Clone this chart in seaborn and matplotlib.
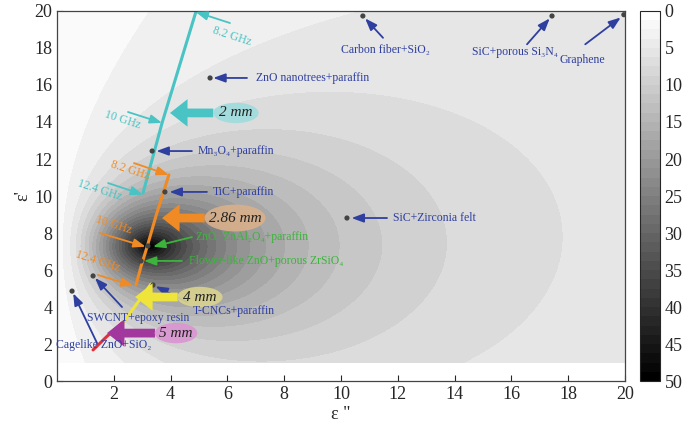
import numpy as np
import pandas as pd
import matplotlib
matplotlib.use("Agg")
import matplotlib.pyplot as plt
from matplotlib.patches import Ellipse
from matplotlib.cm import ScalarMappable
from matplotlib.colors import Normalize
import seaborn as sns

# background map: metal-backed single layer (mu = 1) at one frequency / thickness
freq_ghz = 10.0
thick_mm = 2.86
eps_imag_axis = np.linspace(0.01, 20, 500)
eps_real_axis = np.linspace(1, 20, 500)
shade_levels = np.linspace(0, 50, 26)

# matching loci (eps'', eps')
locus_2mm_x = [3.03, 3.70, 4.90]
locus_2mm_y = [10.16, 13.95, 20.0]
locus_286mm_x = [3.94, 3.50, 3.17, 2.96, 2.78]
locus_286mm_y = [11.14, 9.00, 7.24, 6.20, 5.19]
locus_4mm_x = [3.31, 2.75, 2.22]
locus_4mm_y = [5.24, 4.05, 2.92]
locus_5mm_x = [2.29, 1.75, 1.27]
locus_5mm_y = [3.14, 2.40, 1.68]

# reported materials
materials = ["Graphene", "SiC+porous Si₃N₄", "Carbon fiber+SiO₂", "ZnO nanotrees+paraffin",
             "Mn₃O₄+paraffin", "TiC+paraffin", "SiC+Zirconia felt", "ZnO+ZnAl₂O₄+paraffin",
             "Flower-like ZnO+porous ZrSiO₄", "T-CNCs+paraffin", "SWCNT+epoxy resin",
             "Cagelike ZnO+SiO₂"]
mat_eps_imag = [19.96, 17.43, 10.77, 5.39, 3.35, 3.80, 10.21, 3.20, 2.96, 3.38, 1.27, 0.53]
mat_eps_real = [19.80, 19.73, 19.73, 16.38, 12.43, 10.22, 8.81, 7.30, 6.49, 5.19, 5.68, 4.86]

x_ticks = list(range(2, 21, 2))
y_ticks = list(range(0, 21, 2))
cbar_ticks = list(range(0, 51, 5))

sns.set_theme(style="ticks")
serif = ["Liberation Serif", "DejaVu Serif"]
plt.rcParams["font.family"] = serif

fig = plt.figure(figsize=(6.85, 4.26), dpi=100)
ax = fig.add_axes([0.0832, 0.1056, 0.8292, 0.8686])
cax = fig.add_axes([0.935, 0.1056, 0.028, 0.8686])

# field
EI, ER = np.meshgrid(eps_imag_axis, eps_real_axis)
eps = ER - 1j * EI
k0d = 2 * np.pi * freq_ghz * 1e9 * thick_mm * 1e-3 / 3e8
z_in = np.sqrt(1 / eps) * np.tanh(1j * k0d * np.sqrt(eps))
absorb = 1 - np.abs((z_in - 1) / (z_in + 1))
depth = np.clip(45 * absorb ** 2.5 + 5 * absorb ** 0.5, 0, 49.9)
ax.contourf(EI, ER, depth, levels=shade_levels, cmap="gray_r", vmin=0, vmax=50)

sm = ScalarMappable(norm=Normalize(0, 50), cmap=plt.get_cmap("gray_r", 40))
cb = fig.colorbar(sm, cax=cax)
cb.set_ticks(cbar_ticks)
cax.invert_yaxis()
cax.tick_params(direction="in", length=3, labelsize=13, width=0.6)
cb.outline.set_linewidth(0.8)

# loci
loci = [(locus_2mm_x, locus_2mm_y, "#49c3c3"),
        (locus_286mm_x, locus_286mm_y, "#f08a24"),
        (locus_4mm_x, locus_4mm_y, "#eee43a"),
        (locus_5mm_x, locus_5mm_y, "#e0303c")]
for lx, ly, col in loci:
    d = pd.DataFrame({"x": lx, "y": ly})
    sns.lineplot(data=d, x="x", y="y", sort=False, color=col, lw=2.2, ax=ax,
                 estimator=None)

mat_df = pd.DataFrame({"name": materials, "x": mat_eps_imag, "y": mat_eps_real})
sns.scatterplot(data=mat_df, x="x", y="y", color="#444444", s=14, ax=ax,
                edgecolor="none", zorder=5)

blue = "#2f3f9f"
green = "#3cb43c"
arr_kw = dict(arrowstyle="-|>,head_length=0.6,head_width=0.22", lw=1.3,
              shrinkA=0, shrinkB=0)

# (text, text pos, arrow tail, arrow head, colour, ha)
notes = [
    ("Carbon fiber+SiO₂", (11.58, 17.9), (11.48, 18.55), (10.85, 19.6), blue, "center"),
    ("SiC+porous Si₃N₄", (16.13, 17.8), (16.55, 18.2), (17.35, 19.6), blue, "center"),
    ("Graphene", (18.49, 17.35), (18.6, 18.2), (19.85, 19.65), blue, "center"),
    ("ZnO nanotrees+paraffin", (7.0, 16.38), (6.69, 16.38), (5.5, 16.38), blue, "left"),
    ("Mn₃O₄+paraffin", (4.96, 12.43), (4.75, 12.43), (3.5, 12.43), blue, "left"),
    ("TiC+paraffin", (5.5, 10.22), (5.28, 10.22), (3.96, 10.22), blue, "left"),
    ("SiC+Zirconia felt", (11.83, 8.81), (11.62, 8.81), (10.37, 8.81), blue, "left"),
    ("ZnO+ZnAl₂O₄+paraffin", (4.86, 7.78), (4.75, 7.78), (3.38, 7.26), green, "left"),
    ("Flower-like ZnO+porous ZrSiO₄", (4.65, 6.49), (4.4, 6.49), (3.06, 6.49), green, "left"),
    ("T-CNCs+paraffin", (4.79, 3.78), (4.58, 4.27), (3.47, 5.12), blue, "left"),
    ("SWCNT+epoxy resin", (2.87, 3.41), (2.29, 4.0), (1.34, 5.57), blue, "center"),
    ("Cagelike ZnO+SiO₂", (-0.05, 1.95), (1.41, 2.05), (0.57, 4.74), blue, "left"),
]
for txt, tpos, tail, head, col, ha in notes:
    ax.annotate("", xy=head, xytext=tail, arrowprops=dict(color=col, **arr_kw), zorder=6)
    ax.text(tpos[0], tpos[1], txt, color=col, fontsize=8.5, ha=ha, va="center",
            family=serif, zorder=7)

# frequency markers (text pos, arrow tail, arrow head, colour)
freq_notes = [
    ("8.2 GHz", (6.16, 18.65), (6.09, 19.35), (4.88, 19.95), "#49c3c3"),
    ("10 GHz", (2.32, 14.1), (2.5, 14.54), (3.7, 13.95), "#49c3c3"),
    ("12.4 GHz", (1.51, 10.3), (1.8, 10.7), (3.03, 10.07), "#49c3c3"),
    ("8.2 GHz", (2.57, 11.4), (2.71, 11.78), (3.94, 11.14), "#f08a24"),
    ("10 GHz", (2.0, 8.43), (1.51, 8.0), (3.12, 7.26), "#f08a24"),
    ("12.4 GHz", (1.44, 6.49), (1.44, 5.73), (2.7, 5.14), "#f08a24"),
]
for txt, tpos, tail, head, col in freq_notes:
    ax.annotate("", xy=head, xytext=tail, arrowprops=dict(color=col, **arr_kw), zorder=6)
    ax.text(tpos[0], tpos[1], txt, color=col, fontsize=8.5, ha="center", va="center",
            rotation=-18, family=serif, zorder=7)

# thickness tags (label, centre, tag size, arrow tail, arrow head, arrow colour, fill)
thick_notes = [
    ("2 mm", (6.30, 14.49), (1.6, 1.1), (5.5, 14.49), (3.98, 14.49), "#49c3c3", "#9edbdc"),
    ("2.86 mm", (6.27, 8.81), (2.15, 1.45), (5.2, 8.81), (3.7, 8.81), "#f08a24", "#d8b08c"),
    ("4 mm", (5.03, 4.54), (1.6, 1.1), (4.25, 4.54), (2.75, 4.54), "#eee43a", "#d9d38e"),
    ("5 mm", (4.19, 2.59), (1.5, 1.1), (3.45, 2.59), (1.76, 2.59), "#a2379e", "#d994d2"),
]
for txt, c, size, tail, head, acol, fill in thick_notes:
    ax.annotate("", xy=head, xytext=tail,
                arrowprops=dict(color=acol, lw=0, shrinkA=0, shrinkB=0, mutation_scale=18,
                                arrowstyle="simple,head_length=0.7,head_width=1.1,tail_width=0.35"),
                zorder=6)
    ax.add_patch(Ellipse(c, size[0], size[1], fc=fill, ec="none", alpha=0.9, zorder=6.5))
    ax.text(c[0], c[1], txt, fontsize=11, style="italic", color="#222222",
            ha="center", va="center", family=serif, zorder=7)

ax.set_xlim(0, 20)
ax.set_ylim(0, 20)
ax.set_xticks(x_ticks)
ax.set_yticks(y_ticks)
ax.tick_params(direction="in", length=4, labelsize=13, width=0.8)
ax.set_xlabel("ε \"", fontsize=13, labelpad=2)
ax.set_ylabel("ε'", fontsize=13, labelpad=2)
for sp in ax.spines.values():
    sp.set_linewidth(0.9)
    sp.set_color("#444444")

fig.savefig("out.png", dpi=100)
